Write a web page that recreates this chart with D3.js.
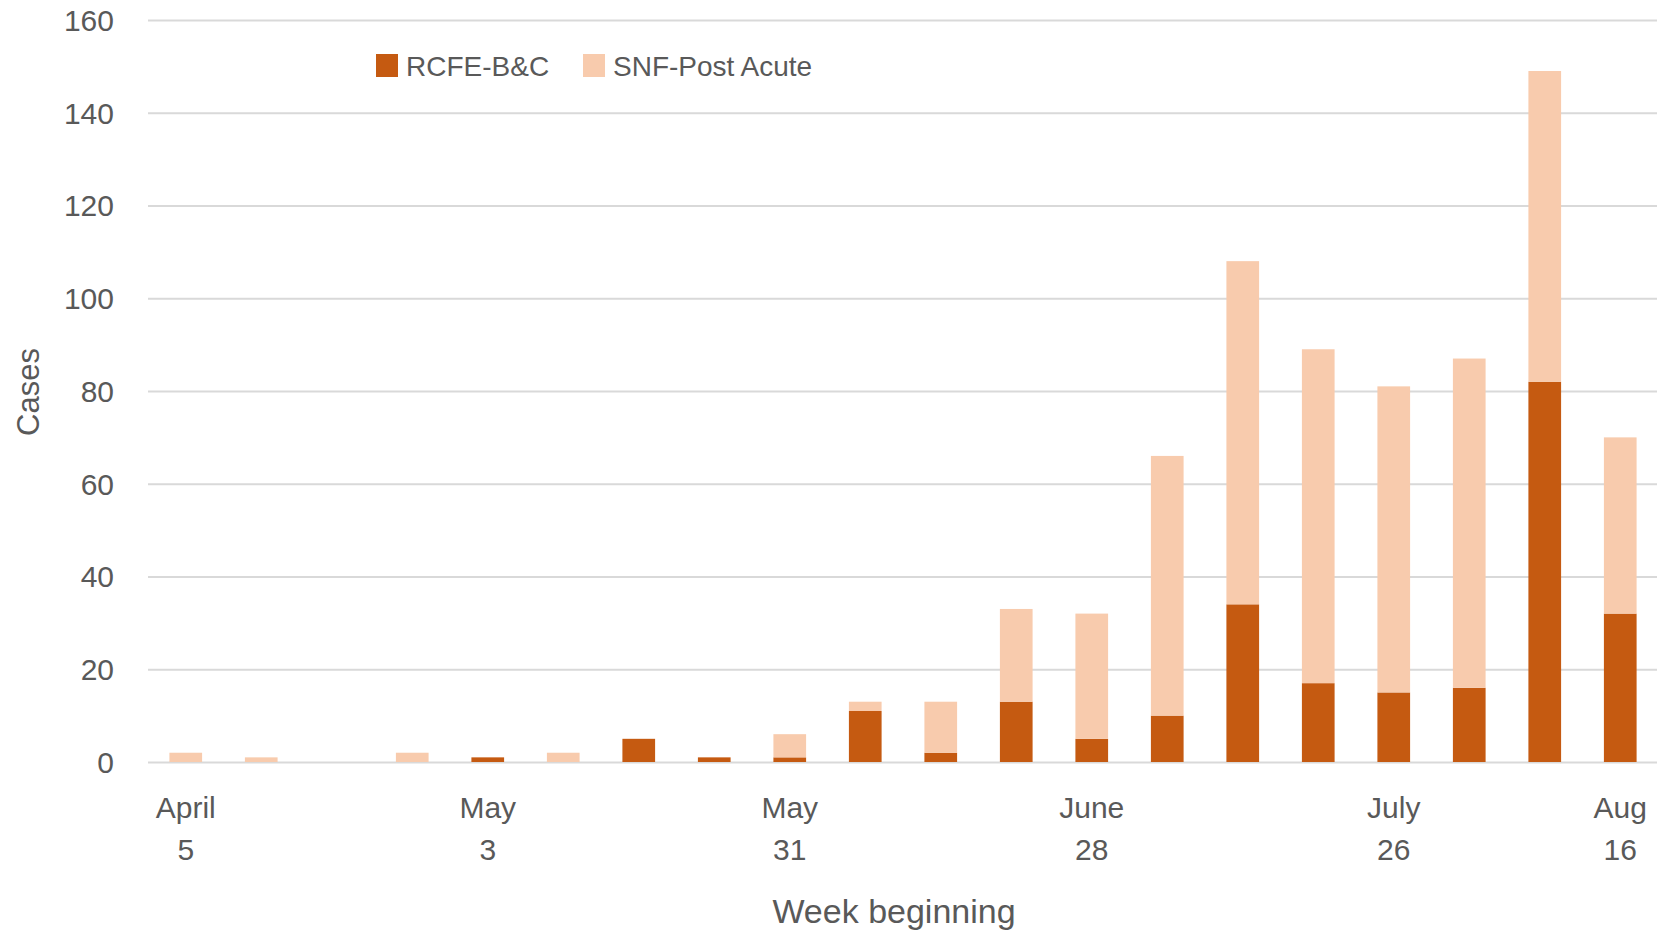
<!DOCTYPE html>
<html>
<head>
<meta charset="utf-8">
<script src="https://cdn.jsdelivr.net/npm/d3@7"></script>
<style>
  body { margin: 0; background: #fff; }
  svg { display: block; font-family: "Liberation Sans", Arial, sans-serif; }
  .grid line { stroke: #d9d9d9; stroke-width: 2; }
  .grid .domain { display: none; }
  .lbl { fill: #595959; }
</style>
</head>
<body>
<div id="chart"></div>
<script>
// weekly cases, week beginning
var weeks = ["Apr 5","Apr 12","Apr 19","Apr 26","May 3","May 10","May 17","May 24","May 31",
             "Jun 7","Jun 14","Jun 21","Jun 28","Jul 5","Jul 12","Jul 19","Jul 26","Aug 2","Aug 9","Aug 16"];
var rcfe = [0,0,0,0,1,0,5,1,1,11,2,13,5,10,34,17,15,16,82,32];
var snf  = [2,1,0,2,0,2,0,0,5,2,11,20,27,56,74,72,66,71,67,38];
var seriesNames = ["RCFE-B&C","SNF-Post Acute"];
var yTicks = [0,20,40,60,80,100,120,140,160];
var xTickWeeks = ["Apr 5","May 3","May 31","Jun 28","Jul 26","Aug 16"];
var xTickTop = ["April","May","May","June","July","Aug"];
var xTickBottom = ["5","3","31","28","26","16"];

var W = 1657, H = 933;
var plot = {left: 148, right: 1658, top: 20, bottom: 762};
var colors = ["#c55a11", "#f8cbad"];

var svg = d3.select("#chart").append("svg")
    .attr("width", W)
    .attr("height", H);

var x = d3.scaleBand()
    .domain(weeks)
    .range([plot.left, plot.right])
    .paddingInner(0.567)
    .paddingOuter(0.2835);

var y = d3.scaleLinear()
    .domain([0, 160])
    .range([plot.bottom, plot.top]);

// gridlines
svg.append("g")
    .attr("class", "grid")
    .attr("transform", "translate(" + plot.left + ",0)")
    .call(d3.axisLeft(y).tickValues(yTicks).tickSize(-(W - plot.left)).tickFormat(""));

// y tick labels
svg.append("g").selectAll("text")
    .data(yTicks)
    .join("text")
    .attr("class", "lbl")
    .attr("x", 114)
    .attr("y", d => y(d))
    .attr("dy", "0.36em")
    .attr("text-anchor", "end")
    .style("font-size", "30px")
    .text(d => d);

// stacked bars
var table = weeks.map((w, i) => ({week: w, rcfe: rcfe[i], snf: snf[i]}));
var stack = d3.stack().keys(["rcfe", "snf"])(table);

svg.append("g").selectAll("g")
    .data(stack)
    .join("g")
    .attr("fill", (d, i) => colors[i])
    .selectAll("rect")
    .data(d => d.filter(p => p[1] > p[0]))
    .join("rect")
    .attr("x", d => x(d.data.week))
    .attr("width", x.bandwidth())
    .attr("y", d => y(d[1]))
    .attr("height", d => y(d[0]) - y(d[1]));

// x tick labels (two lines)
var xl = svg.append("g").selectAll("text")
    .data(xTickWeeks)
    .join("text")
    .attr("class", "lbl")
    .attr("text-anchor", "middle")
    .style("font-size", "30px");
xl.append("tspan")
    .attr("x", d => x(d) + x.bandwidth() / 2)
    .attr("y", 818)
    .text((d, i) => xTickTop[i]);
xl.append("tspan")
    .attr("x", d => x(d) + x.bandwidth() / 2)
    .attr("y", 860)
    .text((d, i) => xTickBottom[i]);

// axis titles
svg.append("text")
    .attr("class", "lbl")
    .attr("x", 894)
    .attr("y", 923)
    .attr("text-anchor", "middle")
    .style("font-size", "34px")
    .text("Week beginning");

svg.append("text")
    .attr("class", "lbl")
    .attr("transform", "translate(39,392) rotate(-90)")
    .attr("text-anchor", "middle")
    .style("font-size", "31px")
    .text("Cases");

// legend
var legendX = [376, 583];
var lg = svg.append("g").selectAll("g")
    .data(seriesNames)
    .join("g")
    .attr("transform", (d, i) => "translate(" + legendX[i] + ",54)");
lg.append("rect")
    .attr("width", 22)
    .attr("height", 23)
    .attr("fill", (d, i) => colors[i]);
lg.append("text")
    .attr("class", "lbl")
    .attr("x", 30)
    .attr("y", 12)
    .attr("dy", "0.36em")
    .style("font-size", "28px")
    .text(d => d);
</script>
</body>
</html>
